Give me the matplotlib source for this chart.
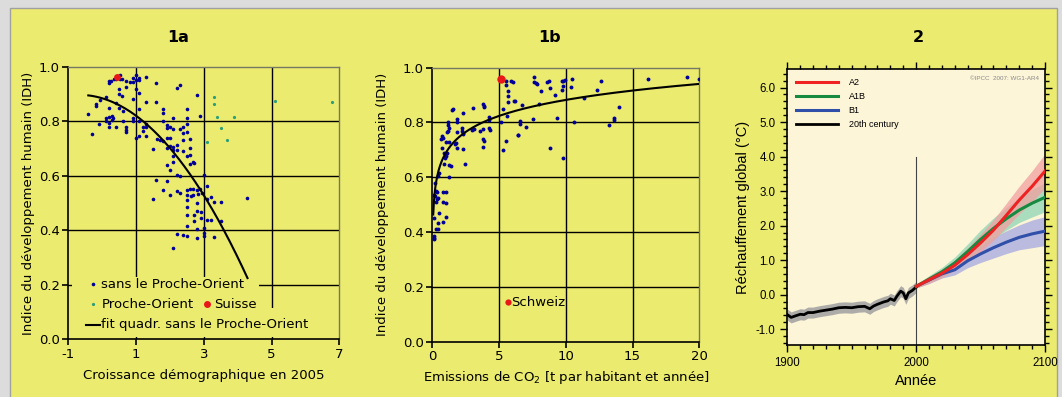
import numpy as np
import matplotlib
matplotlib.use("Agg")
import matplotlib.pyplot as plt
from matplotlib.patches import Rectangle
from matplotlib.ticker import MultipleLocator, FormatStrFormatter, FixedLocator

# ---------------- data: panel 1a (growth vs HDI) ----------------
pts_1a_blue = [
    (0.52, 0.970), (1.00, 0.968), (0.91, 0.960), (1.10, 0.960), (1.30, 0.962),
    (0.20, 0.948), (0.20, 0.939), (0.27, 0.948), (0.34, 0.954), (0.42, 0.954),
    (0.52, 0.954), (0.59, 0.954), (0.71, 0.948), (0.81, 0.945), (0.91, 0.945),
    (1.00, 0.952), (1.09, 0.952), (1.00, 0.919), (0.71, 0.927), (0.50, 0.917),
    (1.60, 0.939), (1.10, 0.905), (0.50, 0.899), (0.59, 0.892),
    (-0.07, 0.877), (0.10, 0.889), (-0.19, 0.856), (-0.19, 0.862), (0.20, 0.850),
    (0.40, 0.868), (0.50, 0.850), (0.60, 0.838), (0.91, 0.880), (1.30, 0.870),
    (1.60, 0.870), (1.10, 0.843), (-0.41, 0.825),
    (0.10, 0.810), (0.20, 0.815), (0.30, 0.820), (0.32, 0.810), (0.10, 0.800),
    (0.20, 0.795), (0.30, 0.803), (0.62, 0.800), (0.42, 0.778), (0.20, 0.778),
    (-0.09, 0.789), (-0.29, 0.754), (0.71, 0.780), (0.71, 0.768), (0.71, 0.760),
    (0.91, 0.810), (0.91, 0.800), (1.10, 0.800), (1.20, 0.778), (1.20, 0.765),
    (1.30, 0.778), (1.30, 0.790), (1.30, 0.747), (1.10, 0.747), (1.00, 0.740),
    (1.50, 0.697), (1.60, 0.583), (1.50, 0.514),
    (2.20, 0.923), (2.30, 0.932), (2.79, 0.895), (1.80, 0.846), (1.80, 0.831),
    (2.49, 0.846), (2.10, 0.813), (2.49, 0.810), (2.89, 0.819),
    (1.80, 0.800), (1.90, 0.785), (1.90, 0.775), (2.00, 0.780), (2.10, 0.770),
    (2.30, 0.770), (2.39, 0.777), (2.49, 0.790), (2.39, 0.755), (2.59, 0.735),
    (2.39, 0.730), (2.49, 0.760), (1.61, 0.735), (1.70, 0.730), (1.80, 0.728),
    (1.90, 0.738), (2.00, 0.740), (1.90, 0.700), (2.00, 0.708), (2.10, 0.706),
    (2.20, 0.712), (2.10, 0.695), (2.20, 0.695), (2.59, 0.700), (2.49, 0.672),
    (2.59, 0.676), (2.39, 0.690), (2.10, 0.672), (2.10, 0.652), (2.69, 0.652),
    (2.72, 0.645), (2.59, 0.642), (1.90, 0.640), (2.00, 0.620), (2.20, 0.603),
    (2.30, 0.600), (3.00, 0.602), (1.90, 0.580),
    (1.80, 0.548), (2.20, 0.545), (2.00, 0.530), (2.30, 0.535), (2.49, 0.548),
    (2.59, 0.552), (2.69, 0.550), (2.79, 0.548), (2.89, 0.552), (2.49, 0.530),
    (2.61, 0.527), (2.69, 0.530), (2.84, 0.532), (2.94, 0.535), (3.10, 0.562),
    (3.10, 0.516), (3.20, 0.521), (3.30, 0.505), (3.50, 0.503), (4.29, 0.517),
    (2.49, 0.512), (2.49, 0.485), (2.49, 0.455), (2.81, 0.499), (2.91, 0.467),
    (2.81, 0.470), (2.71, 0.455), (2.91, 0.446), (2.71, 0.434), (2.81, 0.406),
    (2.51, 0.414), (3.00, 0.410), (3.00, 0.391), (3.00, 0.380), (3.10, 0.437),
    (3.20, 0.437), (3.50, 0.434), (3.30, 0.376), (2.20, 0.385), (2.39, 0.384),
    (2.49, 0.380), (2.81, 0.370), (2.10, 0.336),
]
pts_1a_green = [
    (3.30, 0.890), (3.30, 0.865), (3.40, 0.814), (3.50, 0.774), (3.69, 0.731),
    (3.89, 0.814), (3.10, 0.724), (5.09, 0.875), (6.79, 0.869),
]
suisse_1a = (0.44, 0.963)
xticklabels_1a = ['-1', '1', '3', '5', '7']

# ---------------- data: panel 1b (CO2 vs HDI) ----------------
pts_1b_blue = [
    (5.52, 0.951), (5.90, 0.951), (6.02, 0.948), (5.52, 0.937), (5.65, 0.915),
    (5.65, 0.895), (5.65, 0.875), (6.14, 0.878), (5.32, 0.848), (5.15, 0.800),
    (5.52, 0.733), (5.32, 0.700), (6.39, 0.754), (5.57, 0.824),
    (1.57, 0.848), (1.50, 0.845), (2.32, 0.836), (3.02, 0.853), (3.78, 0.868),
    (3.90, 0.862), (3.85, 0.858), (4.25, 0.820), (4.25, 0.810), (4.25, 0.780),
    (4.30, 0.773), (3.80, 0.775), (3.80, 0.740), (3.90, 0.733), (3.80, 0.710),
    (2.95, 0.772), (3.15, 0.775), (3.57, 0.770), (2.20, 0.780), (2.25, 0.770),
    (2.32, 0.762), (2.32, 0.758), (1.20, 0.800), (1.20, 0.790), (1.25, 0.780),
    (1.20, 0.770), (1.10, 0.765), (1.83, 0.814), (1.83, 0.800), (1.83, 0.766),
    (1.75, 0.725), (0.75, 0.750), (0.65, 0.740), (0.82, 0.745), (1.00, 0.730),
    (1.25, 0.729), (0.75, 0.708), (0.88, 0.690), (1.08, 0.690), (1.70, 0.720),
    (1.83, 0.708), (2.32, 0.702), (2.45, 0.647), (0.95, 0.672), (1.03, 0.676),
    (1.25, 0.645), (1.42, 0.641), (1.25, 0.601), (0.85, 0.650), (0.50, 0.617),
    (0.40, 0.605), (0.20, 0.580), (0.27, 0.550), (0.32, 0.547), (0.82, 0.547),
    (1.03, 0.545), (0.82, 0.510), (1.03, 0.505), (0.20, 0.530), (0.15, 0.535),
    (0.35, 0.520), (0.30, 0.510), (0.45, 0.525), (0.15, 0.450), (0.40, 0.435),
    (0.82, 0.437), (1.00, 0.455), (0.50, 0.470), (0.30, 0.410), (0.45, 0.412),
    (0.10, 0.385), (0.15, 0.375), (0.10, 0.380),
    (7.62, 0.967), (7.62, 0.949), (7.75, 0.944), (7.87, 0.940), (8.60, 0.949),
    (8.74, 0.952), (8.12, 0.915), (8.82, 0.925), (9.19, 0.900), (9.70, 0.950),
    (9.82, 0.952), (9.94, 0.955), (9.82, 0.935), (9.75, 0.917), (10.5, 0.957),
    (10.4, 0.930), (12.6, 0.952), (12.3, 0.920), (11.4, 0.891), (8.00, 0.869),
    (6.70, 0.863), (6.20, 0.878), (7.52, 0.811), (6.60, 0.805), (6.60, 0.793),
    (7.00, 0.783), (9.32, 0.818), (10.6, 0.800), (6.42, 0.754), (8.82, 0.708),
    (9.81, 0.672), (13.24, 0.792), (16.18, 0.960), (19.06, 0.966), (19.98, 0.960),
    (13.99, 0.858), (13.6, 0.815), (13.6, 0.810),
]
suisse_1b = (5.15, 0.958)
schweiz_label = (5.65, 0.144)
# log trend line (x, IDH)
trend_1b = [(0.33, 0.600), (1.57, 0.718), (5.0, 0.824), (10.0, 0.882),
            (15.0, 0.918), (20.0, 0.943)]

# ---------------- data: panel 2 (IPCC projections) ----------------
hist_years = [1900, 1903, 1906, 1910, 1913, 1916, 1920, 1925, 1930, 1935, 1940,
              1945, 1950, 1955, 1960, 1964, 1967, 1970, 1975, 1978, 1980, 1983,
              1985, 1988, 1990, 1992, 1994, 1997, 2000]
hist_temp = [-0.58, -0.66, -0.62, -0.57, -0.58, -0.52, -0.52, -0.48, -0.45,
             -0.42, -0.38, -0.37, -0.38, -0.35, -0.34, -0.41, -0.33, -0.28,
             -0.21, -0.18, -0.12, -0.17, -0.05, 0.10, 0.05, -0.12, 0.05, 0.12, 0.22]
hist_spread = 0.16

proj_years = [2000, 2010, 2020, 2030, 2040, 2050, 2060, 2070, 2080, 2090, 2100]
a2 = [0.24, 0.43, 0.62, 0.85, 1.16, 1.50, 1.87, 2.30, 2.74, 3.14, 3.58]
a1b = [0.24, 0.45, 0.66, 0.92, 1.25, 1.60, 1.92, 2.20, 2.45, 2.65, 2.82]
b1 = [0.24, 0.42, 0.60, 0.72, 0.98, 1.18, 1.36, 1.52, 1.66, 1.76, 1.84]
a2_spread = [0.05, 0.10, 0.12, 0.15, 0.20, 0.25, 0.30, 0.35, 0.40, 0.45, 0.50]
a1b_spread = [0.05, 0.10, 0.13, 0.17, 0.22, 0.27, 0.30, 0.33, 0.36, 0.40, 0.42]
b1_spread = [0.05, 0.10, 0.12, 0.15, 0.20, 0.25, 0.30, 0.33, 0.36, 0.40, 0.42]

# ---------------- style ----------------
YELLOW = '#ebeb6f'
NAVY = '#000099'
TEAL = '#2a9f7a'
RED = '#e81818'
W, H = 1062, 397

plt.rcParams['font.family'] = 'DejaVu Sans'
fig = plt.figure(figsize=(W / 100, H / 100), dpi=100, facecolor='#dcdcdc')
fig.patches.append(Rectangle((10 / W, -0.01), 1047 / W, (H - 8) / H + 0.01,
                             transform=fig.transFigure, facecolor=YELLOW,
                             edgecolor='#a0a0a0', lw=1, zorder=-10))


def px_axes(l, t, r, b):
    return fig.add_axes([l / W, 1 - b / H, (r - l) / W, (b - t) / H])


def style_scatter_axes(ax, xlim, xticks, vgrid):
    ax.set_facecolor('none')
    ax.set_xlim(*xlim)
    ax.set_ylim(0, 1)
    ax.set_xticks(xticks)
    ax.set_yticks(np.arange(0, 1.01, 0.2))
    ax.yaxis.set_major_formatter(FormatStrFormatter('%.1f'))
    for v in vgrid:
        ax.axvline(v, color='black', lw=1, zorder=1)
    for h in [0.2, 0.4, 0.6, 0.8]:
        ax.axhline(h, color='black', lw=1, zorder=1)
    for s in ['left', 'bottom']:
        ax.spines[s].set_color('black')
        ax.spines[s].set_linewidth(1.2)
    for s in ['top', 'right']:
        ax.spines[s].set_color('#777766')
        ax.spines[s].set_linewidth(1)
    ax.tick_params(direction='out', length=4, width=1.2, labelsize=9.5, pad=2)


# ---------- panel 1a ----------
ax1 = px_axes(68.3, 66.7, 339.3, 339.3)
style_scatter_axes(ax1, (-1, 7), [-1, 1, 3, 5, 7], [1, 3, 5])
ax1.set_xticklabels(xticklabels_1a)
bx, by = np.array(pts_1a_blue).T
gx, gy = np.array(pts_1a_green).T
ax1.plot(bx, by, 'o', color=NAVY, ms=2.6, mew=0, zorder=3)
ax1.plot(gx, gy, 'o', color=TEAL, ms=2.3, mew=0, zorder=3)
ax1.plot(*suisse_1a, 'o', color=RED, ms=5, mew=0, zorder=4)
coef = np.polyfit(bx, by, 2)
xf = np.linspace(bx.min(), bx.max(), 200)
ax1.plot(xf, np.polyval(coef, xf), color='black', lw=1.5, zorder=3)
ax1.set_xlabel('Croissance démographique en 2005', fontsize=9.5, labelpad=6)
ax1.set_ylabel('Indice du développement humain (IDH)', fontsize=9.5, labelpad=3)

# legend drawn by hand (entries sit on yellow boxes that hide the grid)
for (x0, y0, x1, y1) in [(-0.9, 0.17, 4.62, 0.228), (-0.9, 0.095, 4.62, 0.17),
                         (-0.9, 0.01, 6.28, 0.114)]:
    ax1.add_patch(Rectangle((x0, y0), x1 - x0, y1 - y0, facecolor=YELLOW,
                            edgecolor='none', zorder=2))
ax1.plot(-0.26, 0.202, 'o', color=NAVY, ms=2.6, mew=0, zorder=5)
ax1.text(-0.02, 0.202, 'sans le Proche-Orient', fontsize=9.5, va='center', zorder=5)
ax1.plot(-0.26, 0.128, 'o', color=TEAL, ms=2.3, mew=0, zorder=5)
ax1.text(-0.02, 0.128, 'Proche-Orient', fontsize=9.5, va='center', zorder=5)
ax1.plot(3.1, 0.128, 'o', color=RED, ms=5, mew=0, zorder=5)
ax1.text(3.3, 0.128, 'Suisse', fontsize=9.5, va='center', zorder=5)
ax1.plot([-0.48, -0.07], [0.053, 0.053], color='black', lw=1.5, zorder=5)
ax1.text(-0.02, 0.053, 'fit quadr. sans le Proche-Orient', fontsize=9.5,
         va='center', zorder=5)

# ---------- panel 1b ----------
ax2 = px_axes(432.3, 67.7, 699.3, 341.7)
style_scatter_axes(ax2, (0, 20), [0, 5, 10, 15, 20], [5, 10, 15])
cx, cy = np.array(pts_1b_blue).T
ax2.plot(cx, cy, 'o', color=NAVY, ms=2.8, mew=0, zorder=3)
ax2.plot(*suisse_1b, 'o', color=RED, ms=6, mew=0, zorder=4)
tx, ty = np.array(trend_1b).T
lcoef = np.polyfit(np.log(tx), ty, 1)
xl = np.linspace(0.07, 20, 400)
ax2.plot(xl, np.polyval(lcoef, np.log(xl)), color='black', lw=1.5, zorder=3)
ax2.plot(*schweiz_label, 'o', color=RED, ms=4.5, mew=0, zorder=4)
ax2.text(schweiz_label[0] + 0.25, schweiz_label[1], 'Schweiz', fontsize=9.5,
         va='center', zorder=5)
ax2.set_xlabel('Emissions de CO$_2$ [t par habitant et année]', fontsize=9.5, labelpad=4)
ax2.set_ylabel('Indice du développement humain (IDH)', fontsize=9.5, labelpad=10)

# ---------- panel 2 ----------
ax3 = px_axes(787.3, 69.3, 1045, 345)
ax3.set_facecolor('#fdf5d8')
ax3.set_xlim(1900, 2100)
ax3.set_ylim(-1.46, 6.53)
hy = np.array(hist_years)
ht = np.array(hist_temp)
ax3.fill_between(hy, ht - hist_spread, ht + hist_spread, color='#a0a0a0',
                 alpha=0.85, lw=0)
ax3.plot(hy, ht, color='black', lw=2, label='20th century', zorder=4)
py = np.array(proj_years)
for vals, spread, band_c in [(b1, b1_spread, '#a4a8e2'),
                             (a1b, a1b_spread, '#8ed6b4'),
                             (a2, a2_spread, '#f2a0a0')]:
    v = np.array(vals)
    s = np.array(spread)
    ax3.fill_between(py, v - s, v + s, color=band_c, alpha=0.75, lw=0)
for vals, line_c, name, z in [(a2, '#ee2222', 'A2', 5), (a1b, '#168a40', 'A1B', 4),
                              (b1, '#2f4fa8', 'B1', 3)]:
    ax3.plot(py, vals, color=line_c, lw=2.2, label=name, zorder=z)
ax3.plot([2000, 2000], [-1.46, 4.0], color='#444444', lw=0.8, zorder=2)

handles, labels = ax3.get_legend_handles_labels()
order = [labels.index(n) for n in ['A2', 'A1B', 'B1', '20th century']]
ax3.legend([handles[i] for i in order], [labels[i] for i in order],
           loc='upper left', frameon=False, handlelength=4.6,
           labelspacing=0.55, borderaxespad=0.4, borderpad=0.6,
           handletextpad=1.2, prop={'family': 'Liberation Sans', 'size': 6.5})
ax3.text(0.975, 0.975, '©IPCC  2007: WG1-AR4', transform=ax3.transAxes,
         ha='right', va='top', fontsize=4.5, color='#888888',
         family='Liberation Sans')

ax3.xaxis.set_major_locator(FixedLocator([1900, 2000, 2100]))
ax3.xaxis.set_minor_locator(MultipleLocator(10))
ax3.yaxis.set_major_locator(FixedLocator(list(range(-1, 7))))
ax3.yaxis.set_minor_locator(MultipleLocator(0.2))
ax3.yaxis.set_major_formatter(FormatStrFormatter('%.1f'))
ax3.tick_params(which='both', direction='out', top=True, right=True, width=1)
ax3.tick_params(which='major', length=5, labelsize=8.3)
ax3.tick_params(which='minor', length=3)
for lab in ax3.get_xticklabels() + ax3.get_yticklabels():
    lab.set_family('Liberation Sans')
for s in ax3.spines.values():
    s.set_linewidth(1.2)
ax3.set_xlabel('Année', fontsize=10.5, family='Liberation Sans', labelpad=4)
ax3.set_ylabel('Réchauffement global (°C)', fontsize=10.5, family='Liberation Sans',
               labelpad=4)

# ---------- panel titles ----------
for txt, xc in [('1a', 177.7), ('1b', 550), ('2', 918)]:
    fig.text(xc / W, 1 - 38 / H, txt, ha='center', va='center',
             fontsize=11.5, fontweight='bold')

fig.savefig('out.png', dpi=100, facecolor=fig.get_facecolor())
